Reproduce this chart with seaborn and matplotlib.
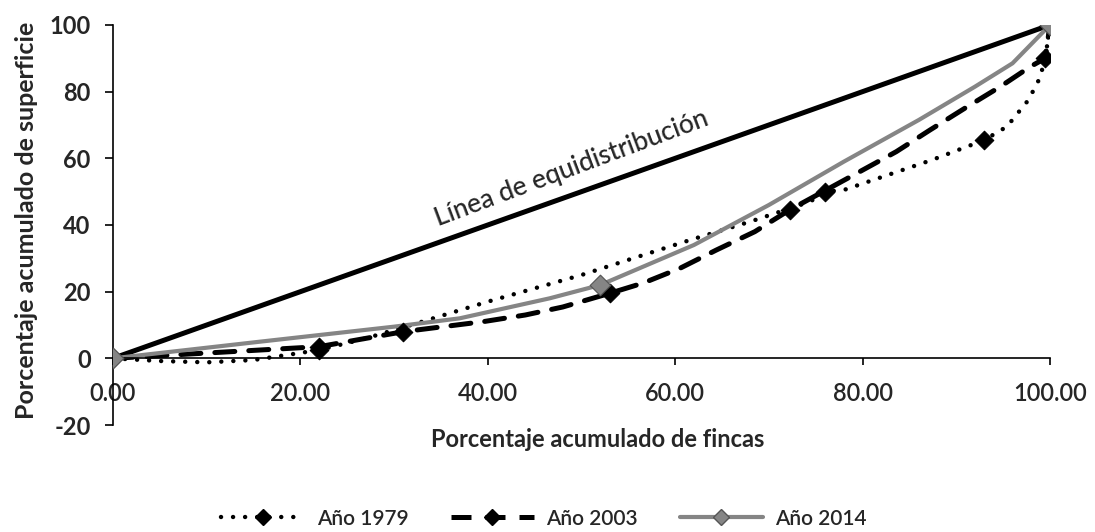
import matplotlib
matplotlib.use("Agg")
import matplotlib.pyplot as plt
from matplotlib.lines import Line2D
import seaborn as sns

# ---- data ----
series_names = ["Año 1979", "Año 2003", "Año 2014"]

# equidistribution line
equi_x = [0, 100]
equi_y = [0, 100]

# data points (markers)
pts_1979_x = [0, 22, 76, 93, 100]
pts_1979_y = [0, 2.5, 50, 65.5, 100]
pts_2003_x = [0, 22, 31, 53, 72.2, 99.5, 100]
pts_2003_y = [0, 3.5, 8, 19.5, 44.5, 90, 100]
pts_2014_x = [0, 52, 100]
pts_2014_y = [0, 22, 100]

# smoothed curve paths
curve_1979_x = [0, 5, 10, 15, 19.7, 22, 27, 33, 40, 50, 55.5, 61.6, 68, 74.4, 76, 78, 82.7, 87.4, 93, 95.4, 97.7, 98.9, 99.5, 100]
curve_1979_y = [0, -0.8, -1.2, -0.5, 1.5, 2.5, 6, 11, 17, 25, 30, 35.5, 41, 47, 50, 50.5, 55, 59.5, 65.5, 69.5, 77.5, 84, 90, 100]
curve_2003_x = [0, 22, 31, 39.5, 44, 48, 53, 56.6, 60.5, 64.4, 68.5, 72.2, 79.7, 83.6, 87.2, 90.9, 94.7, 97.9, 99.5, 100]
curve_2003_y = [0, 3.5, 8, 11, 13, 15.4, 19.5, 22.6, 27, 32.5, 38, 44.5, 56, 62, 68.5, 75, 81.5, 87.5, 90, 100]
curve_2014_x = [0, 15.7, 30, 37, 46.6, 52, 62, 70, 78, 86, 92, 96, 100]
curve_2014_y = [0, 5, 9.5, 12, 18, 22, 34, 46, 59, 71.5, 81.5, 88.5, 100]

x_ticks = [0, 20, 40, 60, 80, 100]
x_ticklabels = ["0.00", "20.00", "40.00", "60.00", "80.00", "100.00"]
y_ticks = [-20, 0, 20, 40, 60, 80, 100]
y_ticklabels = ["-20", "0", "20", "40", "60", "80", "100"]

x_label = "Porcentaje acumulado de fincas"
y_label = "Porcentaje acumulado de superficie"
equi_label = "Línea de equidistribución"

# ---- styling ----
sns.set_theme(style="white")
plt.rcParams["font.family"] = ["Lato", "DejaVu Sans"]

fig = plt.figure(figsize=(10.95, 5.32), dpi=100)
ax = fig.add_axes([0.1032, 0.2011, 0.8557, 0.752])

BLACK = "#000000"
GRAY = "#858585"

# equidistribution
sns.lineplot(x=equi_x, y=equi_y, ax=ax, color=BLACK, lw=3.6, estimator=None, sort=False)

# 1979 dotted
sns.lineplot(x=curve_1979_x, y=curve_1979_y, ax=ax, color=BLACK, lw=3.2,
             estimator=None, sort=False)
ax.lines[-1].set_linestyle((0, (0.01, 2.7)))
ax.lines[-1].set_dash_capstyle("round")

# 2003 dashed
sns.lineplot(x=curve_2003_x, y=curve_2003_y, ax=ax, color=BLACK, lw=3.6,
             estimator=None, sort=False)
ax.lines[-1].set_linestyle((0, (4, 2.8)))
ax.lines[-1].set_dash_capstyle("round")

# 2014 gray solid
sns.lineplot(x=curve_2014_x, y=curve_2014_y, ax=ax, color=GRAY, lw=3.0,
             estimator=None, sort=False)

# markers
sns.scatterplot(x=pts_1979_x, y=pts_1979_y, ax=ax, marker="D", s=90, color=BLACK, edgecolor=BLACK, zorder=5)
sns.scatterplot(x=pts_2003_x, y=pts_2003_y, ax=ax, marker="D", s=90, color=BLACK, edgecolor=BLACK, zorder=5)
sns.scatterplot(x=pts_2014_x, y=pts_2014_y, ax=ax, marker="D", s=110, color=GRAY, edgecolor="#555555", zorder=6)

# axes
ax.set_xlim(0, 100)
ax.set_ylim(-20, 100)
ax.spines["top"].set_visible(False)
ax.spines["right"].set_visible(False)
ax.spines["bottom"].set_position(("data", 0))
for s in ["left", "bottom"]:
    ax.spines[s].set_color(BLACK)
    ax.spines[s].set_linewidth(1.2)
ax.set_xticks(x_ticks)
ax.set_xticklabels(x_ticklabels, fontsize=17, fontweight="semibold")
ax.set_yticks(y_ticks)
ax.set_yticklabels(y_ticklabels, fontsize=17, fontweight="bold")
ax.tick_params(axis="x", direction="out", length=5, width=1.2, color=BLACK, pad=12, bottom=True)
ax.tick_params(axis="y", direction="out", length=6, width=1.2, color=BLACK, pad=10, left=True)
ax.set_xlabel("")
ax.set_ylabel("")

fig.text(0.546, 0.173, x_label, ha="center", va="center", fontsize=17, fontweight="bold")
fig.text(0.024, 0.586, y_label, ha="center", va="center", rotation=90, fontsize=18, fontweight="bold")

ax.text(48.9, 57.0, equi_label, rotation=20.5, ha="center", va="center", fontsize=19,
        fontweight="medium", rotation_mode="anchor")

handles = [
    Line2D([0], [0], color=BLACK, lw=3.2, linestyle=(0, (0.01, 2.7)), dash_capstyle="round",
           marker="D", markersize=8, markerfacecolor=BLACK, markeredgecolor=BLACK),
    Line2D([0], [0], color=BLACK, lw=3.6, linestyle=(0, (4, 2.8)),
           marker="D", markersize=8, markerfacecolor=BLACK, markeredgecolor=BLACK),
    Line2D([0], [0], color=GRAY, lw=3.0, marker="D", markersize=8,
           markerfacecolor=GRAY, markeredgecolor="#555555"),
]
fig.legend(handles, series_names, loc="center", bbox_to_anchor=(0.497, 0.025), ncol=3,
           frameon=False, prop={"size": 15, "weight": "semibold"},
           handlelength=4.0, columnspacing=2.0, handletextpad=0.6)

fig.savefig("out.png", dpi=100)
